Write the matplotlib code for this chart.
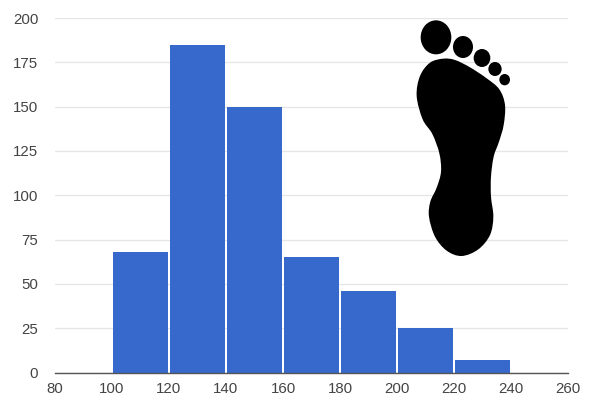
import matplotlib
matplotlib.use('Agg')
import matplotlib.pyplot as plt
from matplotlib.patches import Ellipse, PathPatch
from matplotlib.path import Path

plt.rcParams['font.family'] = ['Liberation Sans', 'DejaVu Sans']

# histogram data
bin_edges = [100, 120, 140, 160, 180, 200, 220, 240]
counts = [68, 185, 150, 65, 46, 25, 7]
x_ticks = [80, 100, 120, 140, 160, 180, 200, 220, 240, 260]
y_ticks = [0, 25, 50, 75, 100, 125, 150, 175, 200]

# foot icon, in its own little coordinate box
sole = [(130, 146), (165, 150), (210, 172), (260, 205), (298, 238), (315, 285),
        (311, 345), (297, 395), (281, 440), (273, 500), (273, 560), (280, 620),
        (270, 675), (235, 718), (185, 738), (140, 722), (105, 680), (87, 620),
        (91, 575), (110, 533), (123, 485), (118, 430), (97, 372), (68, 328),
        (50, 258), (60, 198), (90, 158)]
toes = [(108, 82, 92, 102), (189, 111, 60, 66), (246, 144, 50, 54),
        (285, 177, 40, 42), (314, 209, 32, 34)]


def smooth_closed(points):
    # Catmull-Rom outline turned into bezier segments
    n = len(points)
    verts = [points[0]]
    codes = [Path.MOVETO]
    for i in range(n):
        p0, p1, p2, p3 = (points[(i + k) % n] for k in (-1, 0, 1, 2))
        c1 = (p1[0] + (p2[0] - p0[0]) / 6, p1[1] + (p2[1] - p0[1]) / 6)
        c2 = (p2[0] - (p3[0] - p1[0]) / 6, p2[1] - (p3[1] - p1[1]) / 6)
        verts += [c1, c2, p2]
        codes += [Path.CURVE4] * 3
    return Path(verts, codes)


fig = plt.figure(figsize=(5.9, 3.96), dpi=100)
ax = fig.add_axes([55 / 590, 1 - 372.5 / 396, 513 / 590, 354.5 / 396])

# small white gap between neighbouring bars
gap = 0.8
lefts = [a + gap / 2 for a in bin_edges[:-1]]
widths = [b - a - gap for a, b in zip(bin_edges[:-1], bin_edges[1:])]
ax.bar(lefts, counts, width=widths, align='edge', color='#3769cc',
       edgecolor='none', zorder=2)

ax.set_xlim(80, 260)
ax.set_ylim(0, 200)
ax.set_xticks(x_ticks)
ax.set_yticks(y_ticks)
ax.tick_params(length=0, labelsize=10.8, labelcolor='#444444')
ax.tick_params(axis='x', pad=7)
ax.tick_params(axis='y', pad=12)
ax.grid(axis='y', color='#e6e6e6', linewidth=1.0, zorder=1)
ax.set_axisbelow(True)
for name in ['top', 'right', 'left']:
    ax.spines[name].set_visible(False)
ax.spines['bottom'].set_color('#555555')
ax.spines['bottom'].set_linewidth(1.0)
ax.spines['bottom'].set_zorder(3)

# footprint on top of the chart
foot = fig.add_axes([400 / 590, 1 - 270 / 396, 130 / 590, 260 / 396])
foot.set_xlim(0, 390)
foot.set_ylim(780, 0)
foot.axis('off')
foot.add_patch(PathPatch(smooth_closed(sole), facecolor='black', edgecolor='none'))
for cx, cy, w, h in toes:
    foot.add_patch(Ellipse((cx, cy), w, h, facecolor='black', edgecolor='none'))

fig.savefig('out.png', dpi=100)
